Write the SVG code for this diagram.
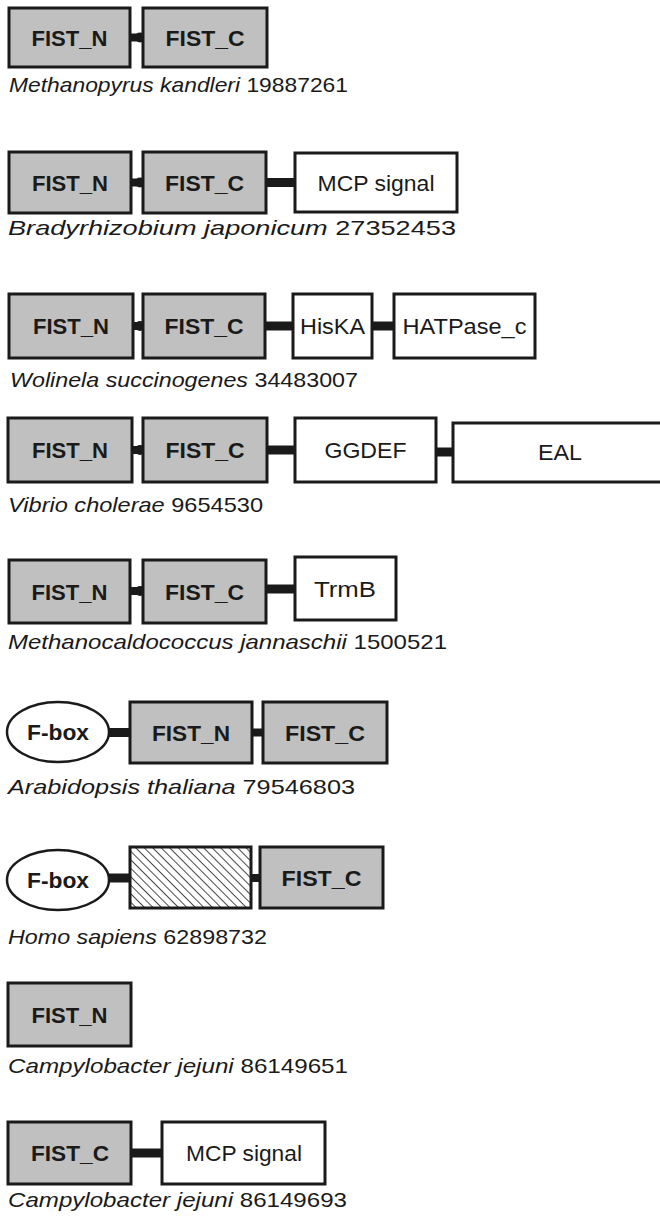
<svg xmlns="http://www.w3.org/2000/svg" width="660" height="1222" viewBox="0 0 660 1222">
<style>
.g{fill:#c0c0c0;stroke:#1a1a1a;stroke-width:3}
.w{fill:#fff;stroke:#1a1a1a;stroke-width:3}
.h{fill:url(#hatch);stroke:#1a1a1a;stroke-width:3}
.e{fill:#fff;stroke:#1a1a1a;stroke-width:2.5}
.lb{font-family:"Liberation Sans",Arial,sans-serif;font-size:21.5px;font-weight:bold;fill:#1a1a1a;text-anchor:middle}
.lr{font-family:"Liberation Sans",Arial,sans-serif;font-size:21.5px;fill:#1a1a1a;text-anchor:middle}
.cap{font-family:"Liberation Sans",Arial,sans-serif;font-size:21px;fill:#1a1a1a}
.it{font-style:italic}
.c{stroke:#1a1a1a;stroke-width:9;fill:none}
.ch{stroke:#1a1a1a;stroke-width:8;fill:none}
.dot{fill:#1a1a1a}
</style>
<defs>
<pattern id="hatch" patternUnits="userSpaceOnUse" width="6" height="6" patternTransform="rotate(-45)">
<rect width="6" height="6" fill="#fff"/>
<line x1="0" y1="0" x2="0" y2="6" stroke="#1a1a1a" stroke-width="1.6"/>
</pattern>
</defs>

<g id="connectors">
<line class="ch" x1="130" y1="37.5" x2="143" y2="37.5"/><circle class="dot" cx="140" cy="37.5" r="5"/>
<line class="ch" x1="131" y1="182.5" x2="143" y2="182.5"/><circle class="dot" cx="140" cy="182.5" r="5"/>
<line class="c" x1="266" y1="182.5" x2="295" y2="182.5"/>
<line class="ch" x1="133" y1="326" x2="143" y2="326"/><circle class="dot" cx="140" cy="326" r="5"/>
<line class="c" x1="265" y1="326" x2="293" y2="326"/>
<line class="c" x1="372" y1="326" x2="394" y2="326"/>
<line class="ch" x1="132" y1="450" x2="143" y2="450"/><circle class="dot" cx="140" cy="450" r="5"/>
<line class="c" x1="267" y1="450" x2="295" y2="450"/>
<line class="c" x1="436" y1="452" x2="453" y2="452"/>
<line class="ch" x1="130" y1="591" x2="143" y2="591"/><circle class="dot" cx="140" cy="591" r="5"/>
<line class="c" x1="266" y1="589" x2="295" y2="589"/>
<line class="c" x1="109" y1="732.5" x2="130" y2="732.5"/>
<line class="ch" x1="252" y1="732.5" x2="263" y2="732.5"/>
<line class="c" x1="109" y1="878" x2="130" y2="878"/>
<line class="ch" x1="251" y1="878" x2="260" y2="878"/>
<line class="c" x1="131" y1="1153" x2="162" y2="1153"/>
</g>

<g id="r1-fistn"><rect class="g" x="9" y="8" width="121" height="59"/><text class="lb" x="69.5" y="45.5" textLength="76" lengthAdjust="spacingAndGlyphs">FIST_N</text></g>
<g id="r1-fistc"><rect class="g" x="143" y="8" width="124" height="59"/><text class="lb" x="205" y="45.5" textLength="79" lengthAdjust="spacingAndGlyphs">FIST_C</text></g>
<text class="cap" x="9" y="92" textLength="339" lengthAdjust="spacingAndGlyphs"><tspan class="it">Methanopyrus kandleri</tspan> 19887261</text>

<g id="r2-fistn"><rect class="g" x="9" y="152" width="122" height="61"/><text class="lb" x="70" y="190.5" textLength="76" lengthAdjust="spacingAndGlyphs">FIST_N</text></g>
<g id="r2-fistc"><rect class="g" x="143" y="152" width="123" height="61"/><text class="lb" x="204.5" y="190.5" textLength="79" lengthAdjust="spacingAndGlyphs">FIST_C</text></g>
<g id="r2-mcp"><rect class="w" x="295" y="153" width="162" height="59"/><text class="lr" x="376" y="190.5" textLength="117" lengthAdjust="spacingAndGlyphs">MCP signal</text></g>
<text class="cap" x="8" y="235" textLength="448" lengthAdjust="spacingAndGlyphs"><tspan class="it">Bradyrhizobium japonicum</tspan> 27352453</text>

<g id="r3-fistn"><rect class="g" x="9" y="294" width="124" height="64"/><text class="lb" x="71" y="334" textLength="76" lengthAdjust="spacingAndGlyphs">FIST_N</text></g>
<g id="r3-fistc"><rect class="g" x="143" y="294" width="122" height="64"/><text class="lb" x="204" y="334" textLength="79" lengthAdjust="spacingAndGlyphs">FIST_C</text></g>
<g id="r3-hiska"><rect class="w" x="293" y="294" width="79" height="64"/><text class="lr" x="332.5" y="334" textLength="65" lengthAdjust="spacingAndGlyphs">HisKA</text></g>
<g id="r3-hatpase"><rect class="w" x="394" y="294" width="141" height="64"/><text class="lr" x="464.5" y="334" textLength="124" lengthAdjust="spacingAndGlyphs">HATPase_c</text></g>
<text class="cap" x="10" y="387" textLength="348" lengthAdjust="spacingAndGlyphs"><tspan class="it">Wolinela succinogenes</tspan> 34483007</text>

<g id="r4-fistn"><rect class="g" x="8" y="418" width="124" height="64"/><text class="lb" x="70" y="458" textLength="76" lengthAdjust="spacingAndGlyphs">FIST_N</text></g>
<g id="r4-fistc"><rect class="g" x="143" y="418" width="124" height="64"/><text class="lb" x="205" y="458" textLength="79" lengthAdjust="spacingAndGlyphs">FIST_C</text></g>
<g id="r4-ggdef"><rect class="w" x="295" y="418" width="141" height="64"/><text class="lr" x="365.5" y="458" textLength="82" lengthAdjust="spacingAndGlyphs">GGDEF</text></g>
<g id="r4-eal"><rect class="w" x="453" y="423" width="211" height="59"/><text class="lr" x="560" y="459.5" textLength="44" lengthAdjust="spacingAndGlyphs">EAL</text></g>
<text class="cap" x="8" y="512" textLength="255" lengthAdjust="spacingAndGlyphs"><tspan class="it">Vibrio cholerae</tspan> 9654530</text>

<g id="r5-fistn"><rect class="g" x="9" y="560" width="121" height="63"/><text class="lb" x="69.5" y="599.5" textLength="76" lengthAdjust="spacingAndGlyphs">FIST_N</text></g>
<g id="r5-fistc"><rect class="g" x="143" y="560" width="123" height="63"/><text class="lb" x="204.5" y="599.5" textLength="79" lengthAdjust="spacingAndGlyphs">FIST_C</text></g>
<g id="r5-trmb"><rect class="w" x="295" y="557" width="101" height="63"/><text class="lr" x="345" y="596.5" textLength="62" lengthAdjust="spacingAndGlyphs">TrmB</text></g>
<text class="cap" x="8" y="649" textLength="439" lengthAdjust="spacingAndGlyphs"><tspan class="it">Methanocaldococcus jannaschii</tspan> 1500521</text>

<g id="r6-fbox"><ellipse class="e" cx="58" cy="732" rx="51" ry="30"/><text class="lb" x="58" y="740" textLength="62" lengthAdjust="spacingAndGlyphs">F-box</text></g>
<g id="r6-fistn"><rect class="g" x="130" y="702" width="122" height="61"/><text class="lb" x="191" y="740.5" textLength="78" lengthAdjust="spacingAndGlyphs">FIST_N</text></g>
<g id="r6-fistc"><rect class="g" x="263" y="702" width="124" height="61"/><text class="lb" x="325" y="740.5" textLength="80" lengthAdjust="spacingAndGlyphs">FIST_C</text></g>
<text class="cap" x="8" y="794" textLength="347" lengthAdjust="spacingAndGlyphs"><tspan class="it">Arabidopsis thaliana</tspan> 79546803</text>

<g id="r7-fbox"><ellipse class="e" cx="58" cy="880" rx="51" ry="30"/><text class="lb" x="58" y="888" textLength="62" lengthAdjust="spacingAndGlyphs">F-box</text></g>
<g id="r7-hatched"><rect class="h" x="130" y="847" width="121" height="61"/></g>
<g id="r7-fistc"><rect class="g" x="260" y="847" width="123" height="61"/><text class="lb" x="321.5" y="885.5" textLength="80" lengthAdjust="spacingAndGlyphs">FIST_C</text></g>
<text class="cap" x="8" y="944" textLength="259" lengthAdjust="spacingAndGlyphs"><tspan class="it">Homo sapiens</tspan> 62898732</text>

<g id="r8-fistn"><rect class="g" x="8" y="983" width="123" height="63"/><text class="lb" x="69.5" y="1022.5" textLength="76" lengthAdjust="spacingAndGlyphs">FIST_N</text></g>
<text class="cap" x="8" y="1073" textLength="340" lengthAdjust="spacingAndGlyphs"><tspan class="it">Campylobacter jejuni</tspan> 86149651</text>

<g id="r9-fistc"><rect class="g" x="8" y="1122" width="123" height="62"/><text class="lb" x="70" y="1161" textLength="78" lengthAdjust="spacingAndGlyphs">FIST_C</text></g>
<g id="r9-mcp"><rect class="w" x="162" y="1122" width="163" height="62"/><text class="lr" x="244" y="1161" textLength="116" lengthAdjust="spacingAndGlyphs">MCP signal</text></g>
<text class="cap" x="8" y="1207" textLength="339" lengthAdjust="spacingAndGlyphs"><tspan class="it">Campylobacter jejuni</tspan> 86149693</text>
</svg>
